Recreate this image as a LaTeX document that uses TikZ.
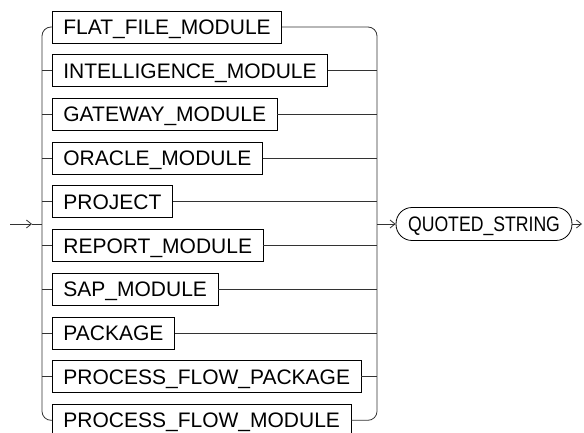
\documentclass[tikz,border=0pt]{standalone}
\usepackage{fontspec}
\setmainfont{Liberation Sans}
\usepackage{graphicx}
\usetikzlibrary{arrows.meta}

\tikzset{
  modbox/.style={draw, anchor=west, inner xsep=11pt, inner ysep=0pt,
    text height=15pt, text depth=0pt, minimum height=32pt,
    font=\fontsize{21}{25}\selectfont},
  strbox/.style={draw, rounded corners=16pt, inner xsep=12pt, inner ysep=0pt,
    text height=15pt, text depth=0pt, minimum height=33pt,
    font=\fontsize{21}{25}\selectfont},
  rail/.style={line width=0.8pt, black!80},
  tip/.style={-{Straight Barb[length=5pt,width=8pt]}}
}

\begin{document}
\begin{tikzpicture}[x=1pt, y=-1pt, line width=0.8pt]
                \useasboundingbox (0, 0) rectangle (584, 433);

                % choices
                \node [modbox] (flat) at (52, 27) {FLAT\_FILE\_MODULE};
                \node [modbox] (intel) at (52, 70.7) {INTELLIGENCE\_MODULE};
                \node [modbox] (gate) at (52, 114.4) {GATEWAY\_MODULE};
                \node [modbox] (oracle) at (52, 158.1) {ORACLE\_MODULE};
                \node [modbox] (proj) at (52, 201.8) {PROJECT};
                \node [modbox] (report) at (52, 245.5) {REPORT\_MODULE};
                \node [modbox] (sap) at (52, 289.2) {SAP\_MODULE};
                \node [modbox] (pack) at (52, 332.9) {PACKAGE};
                \node [modbox] (pfp) at (52, 376.6) {PROCESS\_FLOW\_PACKAGE};
                \node [modbox] (pfm) at (52, 420.3) {PROCESS\_FLOW\_MODULE};

                \node [strbox] (qstr) at (484, 224) {\scalebox{0.84}[1]{QUOTED\_STRING}};

                \coordinate (start) at (10, 224);
                \coordinate (mid) at (32, 224);
                \coordinate (lj) at (42, 224);
                \coordinate (rj) at (377, 224);
                \coordinate (stop) at (582, 224);

                % left rail
                \draw [rail, rounded corners=9pt] (flat.west) -| (lj) |- (pfm.west);
                \draw [rail] (intel.west) -- (intel.west -| lj);
                \draw [rail] (gate.west) -- (gate.west -| lj);
                \draw [rail] (oracle.west) -- (oracle.west -| lj);
                \draw [rail] (proj.west) -- (proj.west -| lj);
                \draw [rail] (report.west) -- (report.west -| lj);
                \draw [rail] (sap.west) -- (sap.west -| lj);
                \draw [rail] (pack.west) -- (pack.west -| lj);
                \draw [rail] (pfp.west) -- (pfp.west -| lj);

                % right rail
                \draw [rail, rounded corners=9pt] (flat.east) -| (rj) |- (pfm.east);
                \draw [rail] (intel.east) -- (intel.east -| rj);
                \draw [rail] (gate.east) -- (gate.east -| rj);
                \draw [rail] (oracle.east) -- (oracle.east -| rj);
                \draw [rail] (proj.east) -- (proj.east -| rj);
                \draw [rail] (report.east) -- (report.east -| rj);
                \draw [rail] (sap.east) -- (sap.east -| rj);
                \draw [rail] (pack.east) -- (pack.east -| rj);
                \draw [rail] (pfp.east) -- (pfp.east -| rj);

                % in and out
                \draw [rail, tip] (start) to (mid);
                \draw [rail] (mid) to (lj);
                \draw [rail, tip] (rj) to (qstr.west);
                \draw [rail, tip] (qstr.east) to (stop);
            \end{tikzpicture}
\end{document}
